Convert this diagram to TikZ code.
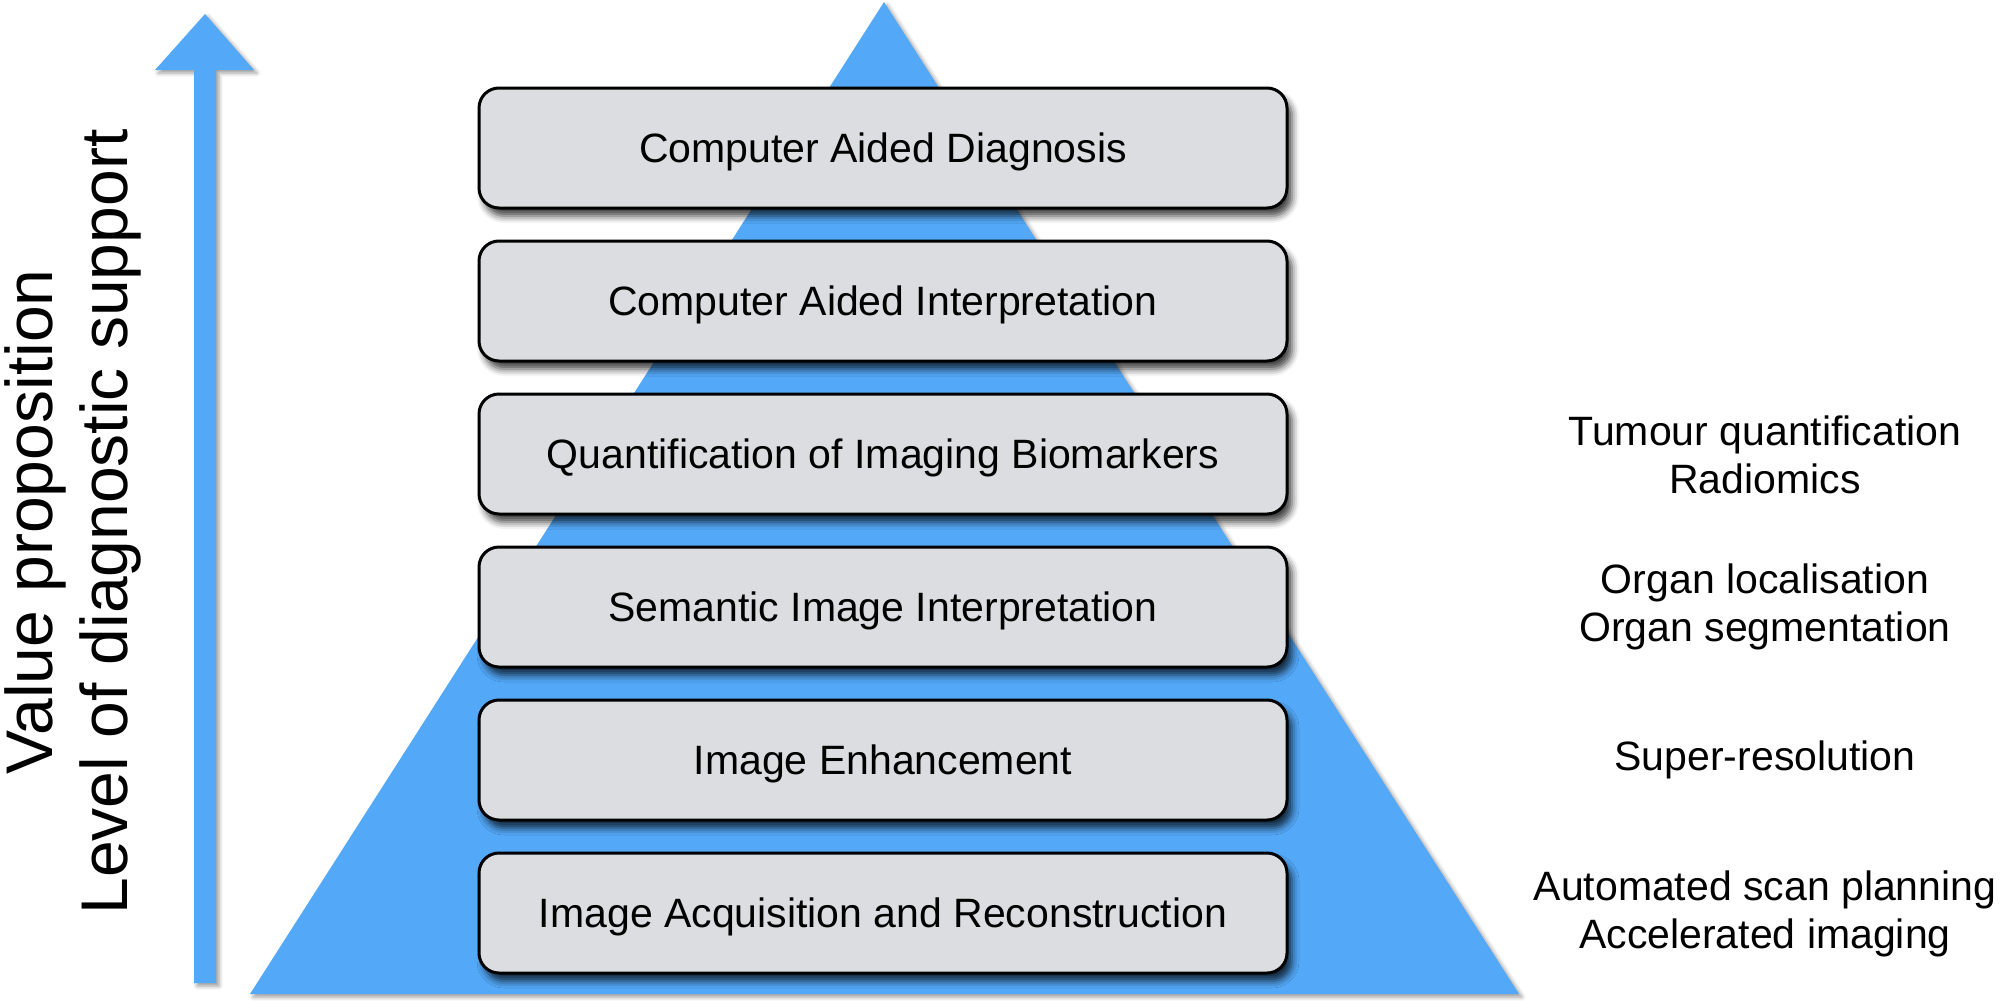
\documentclass[tikz,border=0pt]{standalone}
\usepackage{fontspec}
\setmainfont{Liberation Sans}
\usetikzlibrary{shadows.blur}
\definecolor{pblue}{RGB}{83,168,248}
\definecolor{boxgray}{RGB}{220,221,224}
\begin{document}
\begin{tikzpicture}[x=1pt,y=-1pt,
  levelbox/.style={draw=black, line width=3pt, fill=boxgray, rounded corners=20pt,
    minimum width=808pt, minimum height=120pt, inner sep=0pt,
    text height=29.5pt, text depth=0pt,
    font=\fontsize{41}{49}\selectfont,
    blur shadow={shadow xshift=5pt, shadow yshift=-8pt, shadow blur radius=7pt, shadow opacity=75}},
  note/.style={align=center, font=\fontsize{41}{48.5}\selectfont, inner sep=0pt},
  axislbl/.style={rotate=90, anchor=base, font=\fontsize{66}{70}\selectfont, inner sep=0pt}]
\useasboundingbox (0,0) rectangle (2002,1001);
% pyramid
\fill[pblue, blur shadow={shadow xshift=3pt, shadow yshift=-3pt, shadow blur radius=4pt, shadow opacity=40}]
  (884,2) -- (1519,994) -- (250,994) -- cycle;
% arrow
\fill[pblue, blur shadow={shadow xshift=3pt, shadow yshift=-3pt, shadow blur radius=4pt, shadow opacity=40}]
  (194,983) -- (194,70) -- (155,70) -- (205,14) -- (254,70) -- (216,70) -- (216,983) -- cycle;
% boxes
\node[levelbox] (box1) at (883,148) {Computer Aided Diagnosis};
\node[levelbox] (box2) at (883,301) {Computer Aided Interpretation};
\node[levelbox] (box3) at (883,454) {Quantification of Imaging Biomarkers};
\node[levelbox] (box4) at (883,607) {Semantic Image Interpretation};
\node[levelbox] (box5) at (883,760) {Image Enhancement};
\node[levelbox] (box6) at (883,913) {Image Acquisition and Reconstruction};
% notes
\node[note] (note3) at (1765,455) {Tumour quantification\\Radiomics};
\node[note] (note4) at (1765,607) {Organ localisation\\Organ segmentation};
\node[note] (note5) at (1765,760) {Super-resolution};
\node[note] (note6) at (1765,914) {Automated scan planning\\Accelerated imaging};
% axis labels
\node[axislbl] (lbl1) at (52,522) {Value proposition};
\node[axislbl] (lbl2) at (127,522) {Level of diagnostic support};
\end{tikzpicture}
\end{document}
